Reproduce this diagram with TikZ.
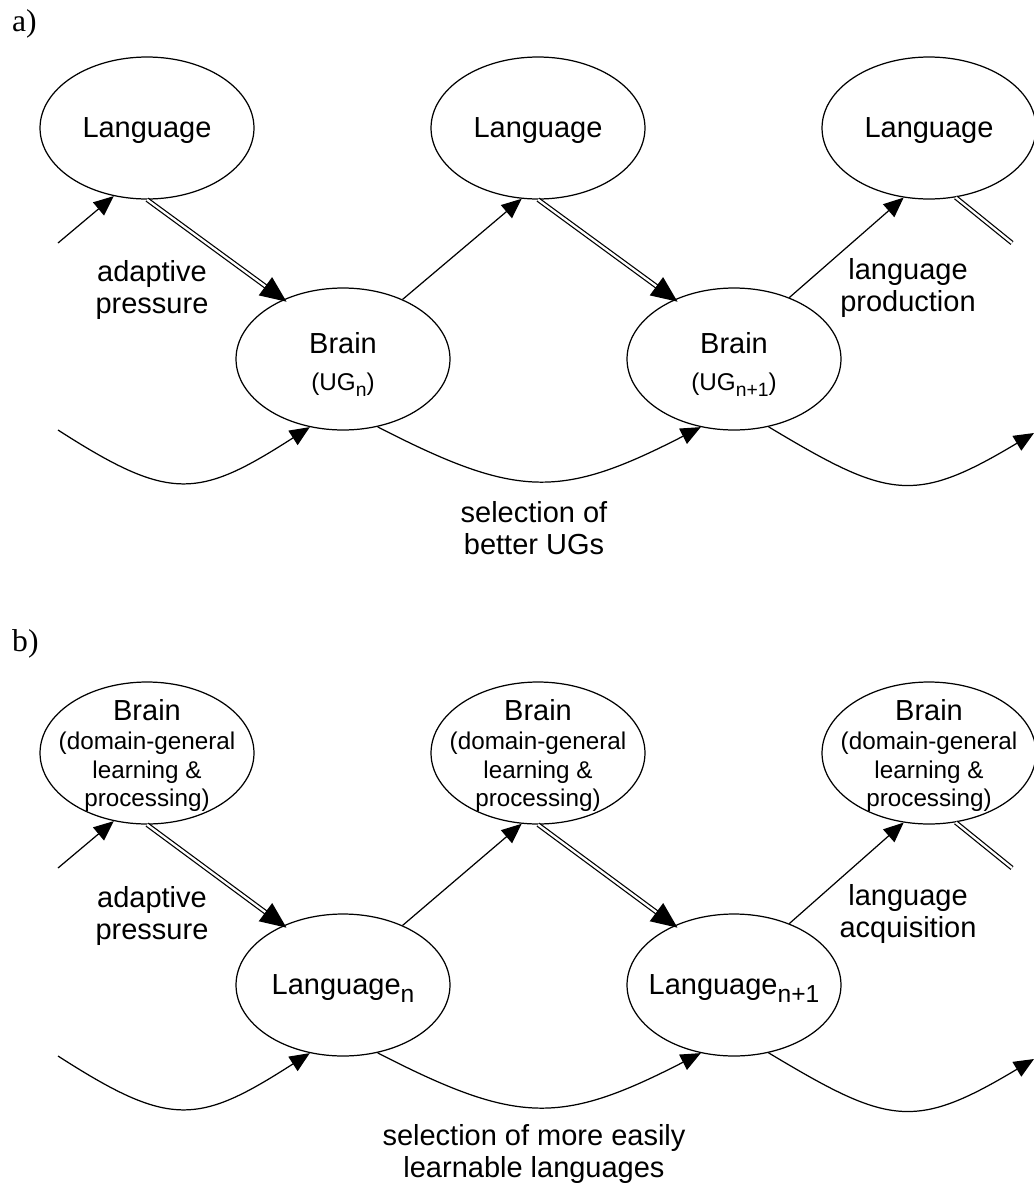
\documentclass[tikz,border=0pt]{standalone}
\usepackage{fontspec}
\setmainfont{Liberation Sans}
\newfontfamily\panelfont{Liberation Serif}
\usetikzlibrary{shapes.geometric, arrows.meta, positioning, decorations.markings}

\newcommand{\bigtxt}{\fontsize{16.5}{17.8}\selectfont}
\newcommand{\smalltxt}{\fontsize{13.8}{16.5}\selectfont}
\newcommand{\subug}[1]{\raisebox{-3.5pt}{\fontsize{11}{11}\selectfont #1}}
\newcommand{\sublang}[1]{\raisebox{-4pt}{\fontsize{14}{14}\selectfont #1}}

\begin{document}
\begin{tikzpicture}[x=0.02cm, y=-0.02cm,
    bubble/.style={ellipse, draw, line width=0.7pt, minimum width=4.28cm, minimum height=2.84cm,
                   inner sep=-0.6cm, text depth=0pt, align=center, font=\bigtxt},
    brainbox/.style={bubble, font=\smalltxt},
    learn/.style={line width=0.7pt, -{Triangle[length=0.4cm, width=0.34cm]}},
    dbl/.style={line width=2.7pt, postaction={draw=white, line width=1.3pt}},
    adapt/.style={dbl, shorten >=0.3cm,
                  postaction={line width=0.7pt, decorate, decoration={markings,
                      mark=at position 0.999 with {\arrow{Triangle[length=0.4cm, width=0.34cm]}}}}},
    note/.style={align=center, font=\bigtxt},
    tag/.style={anchor=base west, font=\panelfont\fontsize{18}{18}\selectfont}]
    \useasboundingbox (0,0) rectangle (1034,1187);

    % a) ---------------------------------------------
    \node[tag] (taga) at (6,31) {a)};
    \node[bubble] (la1) at (147,128) {Language};
    \node[bubble] (la2) at (538,128) {Language};
    \node[bubble] (la3) at (929,128) {Language};
    \node[bubble] (ba1) at (343,359) {\rule{0pt}{14.5pt}Brain\\[3.2pt]{\smalltxt (UG\subug{n})}};
    \node[bubble] (ba2) at (734,359) {\rule{0pt}{14.5pt}Brain\\[3.2pt]{\smalltxt (UG\subug{n+1})}};

    % Language -> Brain -> Language
    \coordinate (ina) at (58,243);
    \coordinate (outa) at (1012,243);
    \draw[learn] (ina) -- (la1.244);
    \draw[adapt] (la1.270) -- (ba1.135);
    \draw[learn] (ba1.45) -- (la2.257);
    \draw[adapt] (la2.270) -- (ba2.135);
    \draw[learn] (ba2.48) -- (la3.250);
    \draw[dbl] (la3.291) -- (outa);

    % selection
    \coordinate (sa0) at (58,430);
    \coordinate (sa3) at (1034,433);
    \draw[learn] (sa0) .. controls +(112,72) and +(-112,72) .. (ba1.244);
    \draw[learn] (ba1.297) .. controls +(140,72) and +(-140,72) .. (ba2.244);
    \draw[learn] (ba2.297) .. controls +(120,72) and +(-120,72) .. (sa3);

    \node[note] (adapta) at (152,290) {adaptive\\pressure};
    \node[note] (proda) at (908,288) {language\\production};
    \node[note] (sela) at (534,528) {selection of\\better UGs};

    % b) ---------------------------------------------
    \node[tag] (tagb) at (6,651) {b)};
    \node[brainbox] (bb1) at (147,753) {{\bigtxt Brain}\\(domain-general\\learning \&\\processing)};
    \node[brainbox] (bb2) at (538,753) {{\bigtxt Brain}\\(domain-general\\learning \&\\processing)};
    \node[brainbox] (bb3) at (929,753) {{\bigtxt Brain}\\(domain-general\\learning \&\\processing)};
    \node[bubble] (lb1) at (343,985) {Language\sublang{n}};
    \node[bubble] (lb2) at (734,985) {Language\sublang{n+1}};

    % Brain -> Language -> Brain
    \coordinate (inb) at (58,868);
    \coordinate (outb) at (1012,868);
    \draw[learn] (inb) -- (bb1.244);
    \draw[adapt] (bb1.270) -- (lb1.135);
    \draw[learn] (lb1.45) -- (bb2.257);
    \draw[adapt] (bb2.270) -- (lb2.135);
    \draw[learn] (lb2.48) -- (bb3.250);
    \draw[dbl] (bb3.291) -- (outb);

    % selection
    \coordinate (sb0) at (58,1056);
    \coordinate (sb3) at (1034,1059);
    \draw[learn] (sb0) .. controls +(112,72) and +(-112,72) .. (lb1.244);
    \draw[learn] (lb1.297) .. controls +(140,72) and +(-140,72) .. (lb2.244);
    \draw[learn] (lb2.297) .. controls +(120,72) and +(-120,72) .. (sb3);

    \node[note] (adaptb) at (152,916) {adaptive\\pressure};
    \node[note] (acqb) at (908,914) {language\\acquisition};
    \node[note] (selb) at (534,1154) {selection of more easily\\learnable languages};
\end{tikzpicture}
\end{document}
